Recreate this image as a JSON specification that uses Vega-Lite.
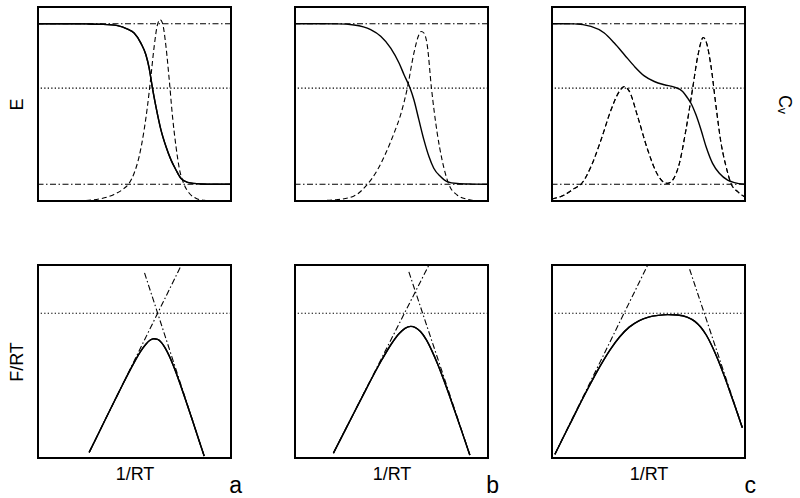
{
  "$schema": "https://vega.github.io/schema/vega-lite/v6.json",
  "padding": {"left": 7, "top": 6, "right": 5, "bottom": 0},
  "background": "white",
  "datasets": {
    "levels": [
      {"panel": "a-top", "kind": "limit", "y": 0.914},
      {"panel": "a-top", "kind": "limit", "y": 0.086},
      {"panel": "a-top", "kind": "level", "y": 0.582},
      {"panel": "b-top", "kind": "limit", "y": 0.914},
      {"panel": "b-top", "kind": "limit", "y": 0.086},
      {"panel": "b-top", "kind": "level", "y": 0.582},
      {"panel": "c-top", "kind": "limit", "y": 0.914},
      {"panel": "c-top", "kind": "limit", "y": 0.086},
      {"panel": "c-top", "kind": "level", "y": 0.582},
      {"panel": "a-bot", "kind": "level", "y": 0.75},
      {"panel": "b-bot", "kind": "level", "y": 0.75},
      {"panel": "c-bot", "kind": "level", "y": 0.75}
    ],
    "curves": [
      {"panel": "a-top", "series": "E", "x": 0, "y": 0.914},
      {"panel": "a-top", "series": "E", "x": 0.15, "y": 0.914},
      {"panel": "a-top", "series": "E", "x": 0.25, "y": 0.913},
      {"panel": "a-top", "series": "E", "x": 0.325, "y": 0.911},
      {"panel": "a-top", "series": "E", "x": 0.412, "y": 0.904},
      {"panel": "a-top", "series": "E", "x": 0.464, "y": 0.886},
      {"panel": "a-top", "series": "E", "x": 0.498, "y": 0.866},
      {"panel": "a-top", "series": "E", "x": 0.533, "y": 0.814},
      {"panel": "a-top", "series": "E", "x": 0.559, "y": 0.754},
      {"panel": "a-top", "series": "E", "x": 0.576, "y": 0.685},
      {"panel": "a-top", "series": "E", "x": 0.593, "y": 0.582},
      {"panel": "a-top", "series": "E", "x": 0.611, "y": 0.487},
      {"panel": "a-top", "series": "E", "x": 0.637, "y": 0.367},
      {"panel": "a-top", "series": "E", "x": 0.663, "y": 0.281},
      {"panel": "a-top", "series": "E", "x": 0.689, "y": 0.212},
      {"panel": "a-top", "series": "E", "x": 0.715, "y": 0.16},
      {"panel": "a-top", "series": "E", "x": 0.74, "y": 0.117},
      {"panel": "a-top", "series": "E", "x": 0.775, "y": 0.096},
      {"panel": "a-top", "series": "E", "x": 0.844, "y": 0.088},
      {"panel": "a-top", "series": "E", "x": 0.92, "y": 0.086},
      {"panel": "a-top", "series": "E", "x": 1, "y": 0.086},

      {"panel": "a-top", "series": "Cv", "x": 0, "y": 0},
      {"panel": "a-top", "series": "Cv", "x": 0.152, "y": 0},
      {"panel": "a-top", "series": "Cv", "x": 0.239, "y": 0.002},
      {"panel": "a-top", "series": "Cv", "x": 0.325, "y": 0.012},
      {"panel": "a-top", "series": "Cv", "x": 0.394, "y": 0.034},
      {"panel": "a-top", "series": "Cv", "x": 0.446, "y": 0.065},
      {"panel": "a-top", "series": "Cv", "x": 0.472, "y": 0.091},
      {"panel": "a-top", "series": "Cv", "x": 0.498, "y": 0.143},
      {"panel": "a-top", "series": "Cv", "x": 0.524, "y": 0.229},
      {"panel": "a-top", "series": "Cv", "x": 0.55, "y": 0.367},
      {"panel": "a-top", "series": "Cv", "x": 0.567, "y": 0.487},
      {"panel": "a-top", "series": "Cv", "x": 0.585, "y": 0.642},
      {"panel": "a-top", "series": "Cv", "x": 0.602, "y": 0.797},
      {"panel": "a-top", "series": "Cv", "x": 0.619, "y": 0.909},
      {"panel": "a-top", "series": "Cv", "x": 0.633, "y": 0.935},
      {"panel": "a-top", "series": "Cv", "x": 0.645, "y": 0.917},
      {"panel": "a-top", "series": "Cv", "x": 0.663, "y": 0.797},
      {"panel": "a-top", "series": "Cv", "x": 0.68, "y": 0.625},
      {"panel": "a-top", "series": "Cv", "x": 0.697, "y": 0.435},
      {"panel": "a-top", "series": "Cv", "x": 0.715, "y": 0.281},
      {"panel": "a-top", "series": "Cv", "x": 0.732, "y": 0.169},
      {"panel": "a-top", "series": "Cv", "x": 0.758, "y": 0.083},
      {"panel": "a-top", "series": "Cv", "x": 0.784, "y": 0.04},
      {"panel": "a-top", "series": "Cv", "x": 0.818, "y": 0.014},
      {"panel": "a-top", "series": "Cv", "x": 0.862, "y": 0.003},
      {"panel": "a-top", "series": "Cv", "x": 0.92, "y": 0},
      {"panel": "a-top", "series": "Cv", "x": 1, "y": 0},

      {"panel": "b-top", "series": "E", "x": 0, "y": 0.914},
      {"panel": "b-top", "series": "E", "x": 0.22, "y": 0.913},
      {"panel": "b-top", "series": "E", "x": 0.306, "y": 0.907},
      {"panel": "b-top", "series": "E", "x": 0.392, "y": 0.883},
      {"panel": "b-top", "series": "E", "x": 0.444, "y": 0.849},
      {"panel": "b-top", "series": "E", "x": 0.496, "y": 0.788},
      {"panel": "b-top", "series": "E", "x": 0.539, "y": 0.711},
      {"panel": "b-top", "series": "E", "x": 0.565, "y": 0.651},
      {"panel": "b-top", "series": "E", "x": 0.596, "y": 0.582},
      {"panel": "b-top", "series": "E", "x": 0.616, "y": 0.522},
      {"panel": "b-top", "series": "E", "x": 0.642, "y": 0.418},
      {"panel": "b-top", "series": "E", "x": 0.668, "y": 0.315},
      {"panel": "b-top", "series": "E", "x": 0.694, "y": 0.229},
      {"panel": "b-top", "series": "E", "x": 0.719, "y": 0.169},
      {"panel": "b-top", "series": "E", "x": 0.754, "y": 0.126},
      {"panel": "b-top", "series": "E", "x": 0.788, "y": 0.1},
      {"panel": "b-top", "series": "E", "x": 0.84, "y": 0.09},
      {"panel": "b-top", "series": "E", "x": 0.92, "y": 0.087},
      {"panel": "b-top", "series": "E", "x": 1, "y": 0.086},

      {"panel": "b-top", "series": "Cv", "x": 0, "y": 0},
      {"panel": "b-top", "series": "Cv", "x": 0.134, "y": 0.002},
      {"panel": "b-top", "series": "Cv", "x": 0.22, "y": 0.007},
      {"panel": "b-top", "series": "Cv", "x": 0.306, "y": 0.026},
      {"panel": "b-top", "series": "Cv", "x": 0.375, "y": 0.086},
      {"panel": "b-top", "series": "Cv", "x": 0.427, "y": 0.16},
      {"panel": "b-top", "series": "Cv", "x": 0.47, "y": 0.246},
      {"panel": "b-top", "series": "Cv", "x": 0.513, "y": 0.349},
      {"panel": "b-top", "series": "Cv", "x": 0.547, "y": 0.444},
      {"panel": "b-top", "series": "Cv", "x": 0.582, "y": 0.582},
      {"panel": "b-top", "series": "Cv", "x": 0.616, "y": 0.762},
      {"panel": "b-top", "series": "Cv", "x": 0.642, "y": 0.857},
      {"panel": "b-top", "series": "Cv", "x": 0.654, "y": 0.874},
      {"panel": "b-top", "series": "Cv", "x": 0.668, "y": 0.866},
      {"panel": "b-top", "series": "Cv", "x": 0.685, "y": 0.805},
      {"panel": "b-top", "series": "Cv", "x": 0.707, "y": 0.582},
      {"panel": "b-top", "series": "Cv", "x": 0.737, "y": 0.349},
      {"panel": "b-top", "series": "Cv", "x": 0.762, "y": 0.212},
      {"panel": "b-top", "series": "Cv", "x": 0.797, "y": 0.086},
      {"panel": "b-top", "series": "Cv", "x": 0.84, "y": 0.031},
      {"panel": "b-top", "series": "Cv", "x": 0.892, "y": 0.009},
      {"panel": "b-top", "series": "Cv", "x": 0.943, "y": 0.001},
      {"panel": "b-top", "series": "Cv", "x": 1, "y": 0},

      {"panel": "c-top", "series": "E", "x": 0, "y": 0.914},
      {"panel": "c-top", "series": "E", "x": 0.116, "y": 0.913},
      {"panel": "c-top", "series": "E", "x": 0.202, "y": 0.9},
      {"panel": "c-top", "series": "E", "x": 0.271, "y": 0.866},
      {"panel": "c-top", "series": "E", "x": 0.323, "y": 0.814},
      {"panel": "c-top", "series": "E", "x": 0.375, "y": 0.754},
      {"panel": "c-top", "series": "E", "x": 0.427, "y": 0.694},
      {"panel": "c-top", "series": "E", "x": 0.478, "y": 0.645},
      {"panel": "c-top", "series": "E", "x": 0.53, "y": 0.616},
      {"panel": "c-top", "series": "E", "x": 0.582, "y": 0.599},
      {"panel": "c-top", "series": "E", "x": 0.634, "y": 0.587},
      {"panel": "c-top", "series": "E", "x": 0.677, "y": 0.565},
      {"panel": "c-top", "series": "E", "x": 0.703, "y": 0.53},
      {"panel": "c-top", "series": "E", "x": 0.72, "y": 0.504},
      {"panel": "c-top", "series": "E", "x": 0.746, "y": 0.444},
      {"panel": "c-top", "series": "E", "x": 0.772, "y": 0.367},
      {"panel": "c-top", "series": "E", "x": 0.798, "y": 0.281},
      {"panel": "c-top", "series": "E", "x": 0.832, "y": 0.194},
      {"panel": "c-top", "series": "E", "x": 0.867, "y": 0.143},
      {"panel": "c-top", "series": "E", "x": 0.91, "y": 0.108},
      {"panel": "c-top", "series": "E", "x": 0.945, "y": 0.095},
      {"panel": "c-top", "series": "E", "x": 1, "y": 0.086},

      {"panel": "c-top", "series": "Cv", "x": 0, "y": 0.01},
      {"panel": "c-top", "series": "Cv", "x": 0.064, "y": 0.031},
      {"panel": "c-top", "series": "Cv", "x": 0.116, "y": 0.065},
      {"panel": "c-top", "series": "Cv", "x": 0.15, "y": 0.086},
      {"panel": "c-top", "series": "Cv", "x": 0.202, "y": 0.177},
      {"panel": "c-top", "series": "Cv", "x": 0.254, "y": 0.315},
      {"panel": "c-top", "series": "Cv", "x": 0.306, "y": 0.47},
      {"panel": "c-top", "series": "Cv", "x": 0.349, "y": 0.565},
      {"panel": "c-top", "series": "Cv", "x": 0.375, "y": 0.59},
      {"panel": "c-top", "series": "Cv", "x": 0.401, "y": 0.565},
      {"panel": "c-top", "series": "Cv", "x": 0.444, "y": 0.435},
      {"panel": "c-top", "series": "Cv", "x": 0.496, "y": 0.263},
      {"panel": "c-top", "series": "Cv", "x": 0.548, "y": 0.134},
      {"panel": "c-top", "series": "Cv", "x": 0.582, "y": 0.095},
      {"panel": "c-top", "series": "Cv", "x": 0.599, "y": 0.091},
      {"panel": "c-top", "series": "Cv", "x": 0.625, "y": 0.108},
      {"panel": "c-top", "series": "Cv", "x": 0.66, "y": 0.194},
      {"panel": "c-top", "series": "Cv", "x": 0.694, "y": 0.367},
      {"panel": "c-top", "series": "Cv", "x": 0.729, "y": 0.582},
      {"panel": "c-top", "series": "Cv", "x": 0.755, "y": 0.745},
      {"panel": "c-top", "series": "Cv", "x": 0.784, "y": 0.843},
      {"panel": "c-top", "series": "Cv", "x": 0.798, "y": 0.823},
      {"panel": "c-top", "series": "Cv", "x": 0.824, "y": 0.694},
      {"panel": "c-top", "series": "Cv", "x": 0.85, "y": 0.487},
      {"panel": "c-top", "series": "Cv", "x": 0.876, "y": 0.298},
      {"panel": "c-top", "series": "Cv", "x": 0.902, "y": 0.177},
      {"panel": "c-top", "series": "Cv", "x": 0.927, "y": 0.091},
      {"panel": "c-top", "series": "Cv", "x": 0.962, "y": 0.048},
      {"panel": "c-top", "series": "Cv", "x": 0.997, "y": 0.022},

      {"panel": "a-bot", "series": "F", "x": 0.265, "y": 0.029},
      {"panel": "a-bot", "series": "F", "x": 0.3, "y": 0.1},
      {"panel": "a-bot", "series": "F", "x": 0.35, "y": 0.202},
      {"panel": "a-bot", "series": "F", "x": 0.4, "y": 0.303},
      {"panel": "a-bot", "series": "F", "x": 0.45, "y": 0.403},
      {"panel": "a-bot", "series": "F", "x": 0.5, "y": 0.498},
      {"panel": "a-bot", "series": "F", "x": 0.53, "y": 0.55},
      {"panel": "a-bot", "series": "F", "x": 0.56, "y": 0.591},
      {"panel": "a-bot", "series": "F", "x": 0.58, "y": 0.61},
      {"panel": "a-bot", "series": "F", "x": 0.6, "y": 0.618},
      {"panel": "a-bot", "series": "F", "x": 0.62, "y": 0.615},
      {"panel": "a-bot", "series": "F", "x": 0.64, "y": 0.598},
      {"panel": "a-bot", "series": "F", "x": 0.66, "y": 0.568},
      {"panel": "a-bot", "series": "F", "x": 0.68, "y": 0.529},
      {"panel": "a-bot", "series": "F", "x": 0.7, "y": 0.482},
      {"panel": "a-bot", "series": "F", "x": 0.73, "y": 0.402},
      {"panel": "a-bot", "series": "F", "x": 0.76, "y": 0.315},
      {"panel": "a-bot", "series": "F", "x": 0.8, "y": 0.196},
      {"panel": "a-bot", "series": "F", "x": 0.83, "y": 0.104},
      {"panel": "a-bot", "series": "F", "x": 0.861, "y": 0.01},
      {"panel": "a-bot", "series": "L1", "x": 0.265, "y": 0.029},
      {"panel": "a-bot", "series": "L1", "x": 0.743, "y": 1.0},
      {"panel": "a-bot", "series": "L2", "x": 0.552, "y": 0.959},
      {"panel": "a-bot", "series": "L2", "x": 0.861, "y": 0.01},

      {"panel": "b-bot", "series": "F", "x": 0.199, "y": 0.025},
      {"panel": "b-bot", "series": "F", "x": 0.25, "y": 0.125},
      {"panel": "b-bot", "series": "F", "x": 0.3, "y": 0.223},
      {"panel": "b-bot", "series": "F", "x": 0.35, "y": 0.32},
      {"panel": "b-bot", "series": "F", "x": 0.4, "y": 0.417},
      {"panel": "b-bot", "series": "F", "x": 0.45, "y": 0.509},
      {"panel": "b-bot", "series": "F", "x": 0.5, "y": 0.592},
      {"panel": "b-bot", "series": "F", "x": 0.54, "y": 0.645},
      {"panel": "b-bot", "series": "F", "x": 0.57, "y": 0.672},
      {"panel": "b-bot", "series": "F", "x": 0.6, "y": 0.682},
      {"panel": "b-bot", "series": "F", "x": 0.624, "y": 0.676},
      {"panel": "b-bot", "series": "F", "x": 0.65, "y": 0.655},
      {"panel": "b-bot", "series": "F", "x": 0.68, "y": 0.613},
      {"panel": "b-bot", "series": "F", "x": 0.71, "y": 0.554},
      {"panel": "b-bot", "series": "F", "x": 0.74, "y": 0.485},
      {"panel": "b-bot", "series": "F", "x": 0.77, "y": 0.407},
      {"panel": "b-bot", "series": "F", "x": 0.8, "y": 0.324},
      {"panel": "b-bot", "series": "F", "x": 0.84, "y": 0.209},
      {"panel": "b-bot", "series": "F", "x": 0.87, "y": 0.121},
      {"panel": "b-bot", "series": "F", "x": 0.906, "y": 0.015},
      {"panel": "b-bot", "series": "L1", "x": 0.199, "y": 0.025},
      {"panel": "b-bot", "series": "L1", "x": 0.694, "y": 1.0},
      {"panel": "b-bot", "series": "L2", "x": 0.59, "y": 0.964},
      {"panel": "b-bot", "series": "L2", "x": 0.906, "y": 0.016},

      {"panel": "c-bot", "series": "F", "x": 0.015, "y": 0.019},
      {"panel": "c-bot", "series": "F", "x": 0.06, "y": 0.11},
      {"panel": "c-bot", "series": "F", "x": 0.1, "y": 0.19},
      {"panel": "c-bot", "series": "F", "x": 0.15, "y": 0.29},
      {"panel": "c-bot", "series": "F", "x": 0.2, "y": 0.386},
      {"panel": "c-bot", "series": "F", "x": 0.25, "y": 0.477},
      {"panel": "c-bot", "series": "F", "x": 0.3, "y": 0.559},
      {"panel": "c-bot", "series": "F", "x": 0.35, "y": 0.627},
      {"panel": "c-bot", "series": "F", "x": 0.4, "y": 0.678},
      {"panel": "c-bot", "series": "F", "x": 0.45, "y": 0.711},
      {"panel": "c-bot", "series": "F", "x": 0.5, "y": 0.73},
      {"panel": "c-bot", "series": "F", "x": 0.55, "y": 0.739},
      {"panel": "c-bot", "series": "F", "x": 0.6, "y": 0.743},
      {"panel": "c-bot", "series": "F", "x": 0.65, "y": 0.741},
      {"panel": "c-bot", "series": "F", "x": 0.7, "y": 0.73},
      {"panel": "c-bot", "series": "F", "x": 0.74, "y": 0.708},
      {"panel": "c-bot", "series": "F", "x": 0.77, "y": 0.679},
      {"panel": "c-bot", "series": "F", "x": 0.8, "y": 0.636},
      {"panel": "c-bot", "series": "F", "x": 0.83, "y": 0.578},
      {"panel": "c-bot", "series": "F", "x": 0.86, "y": 0.509},
      {"panel": "c-bot", "series": "F", "x": 0.89, "y": 0.432},
      {"panel": "c-bot", "series": "F", "x": 0.92, "y": 0.349},
      {"panel": "c-bot", "series": "F", "x": 0.95, "y": 0.263},
      {"panel": "c-bot", "series": "F", "x": 0.986, "y": 0.157},
      {"panel": "c-bot", "series": "L1", "x": 0.015, "y": 0.02},
      {"panel": "c-bot", "series": "L1", "x": 0.496, "y": 1.0},
      {"panel": "c-bot", "series": "L2", "x": 0.713, "y": 0.978},
      {"panel": "c-bot", "series": "L2", "x": 0.986, "y": 0.159}
    ]
  },
  "config": {
    "view": {"stroke": "black", "strokeWidth": 2},
    "axis": {"minExtent": 0, "titleFont": "Liberation Sans", "titleFontSize": 18, "titleFontWeight": "normal", "titleColor": "black"},
    "axisY": {"minExtent": 0, "titlePadding": 12},
    "axisX": {"minExtent": 0, "titlePadding": 7},
    "title": {"font": "Liberation Sans", "fontSize": 23, "fontWeight": "normal", "color": "black", "orient": "bottom", "anchor": "end", "frame": "group", "baseline": "alphabetic", "offset": -8, "dx": 11}
  },
  "columns": 3,
  "spacing": {"row": 64, "column": 64},
  "bounds": "flush",
  "concat": [
    {
      "width": 193, "height": 194,
      "layer": [
        {"data": {"name": "curves"}, "transform": [{"filter": "datum.panel == 'a-top' && datum.series == 'E'"}], "mark": {"type": "line", "color": "black", "strokeWidth": 1.4, "interpolate": "monotone", "clip": true}, "encoding": {"x": {"field": "x", "type": "quantitative", "scale": {"domain": [0, 1], "nice": false, "zero": false}, "axis": null}, "y": {"field": "y", "type": "quantitative", "scale": {"domain": [0, 1], "nice": false, "zero": false}, "axis": {"title": "E", "orient": "left", "labels": false, "ticks": false, "domain": false, "grid": false}}}},
        {"data": {"name": "levels"}, "transform": [{"filter": "datum.panel == 'a-top' && datum.kind == 'limit'"}], "mark": {"type": "rule", "color": "black", "strokeWidth": 1.1, "strokeDash": [6, 2.5, 1.5, 2.5]}, "encoding": {"y": {"field": "y", "type": "quantitative"}}},
        {"data": {"name": "levels"}, "transform": [{"filter": "datum.panel == 'a-top' && datum.kind == 'level'"}], "mark": {"type": "rule", "color": "black", "strokeWidth": 1.2, "strokeDash": [1.3, 2.2]}, "encoding": {"y": {"field": "y", "type": "quantitative"}}},
        {"data": {"name": "curves"}, "transform": [{"filter": "datum.panel == 'a-top' && datum.series == 'Cv'"}], "mark": {"type": "line", "color": "black", "strokeWidth": 1.1, "strokeDash": [5, 3], "interpolate": "monotone", "clip": true}, "encoding": {"x": {"field": "x", "type": "quantitative", "axis": null}, "y": {"field": "y", "type": "quantitative"}}},
        {"data": {"name": "curves"}, "transform": [{"filter": "datum.panel == 'a-top' && datum.series == 'E'"}], "mark": {"type": "line", "color": "black", "strokeWidth": 1.4, "interpolate": "monotone", "clip": true}, "encoding": {"x": {"field": "x", "type": "quantitative", "axis": null}, "y": {"field": "y", "type": "quantitative"}}}
      ]
    },
    {
      "width": 193, "height": 194,
      "layer": [
        {"data": {"name": "levels"}, "transform": [{"filter": "datum.panel == 'b-top' && datum.kind == 'limit'"}], "mark": {"type": "rule", "color": "black", "strokeWidth": 1.1, "strokeDash": [6, 2.5, 1.5, 2.5]}, "encoding": {"y": {"field": "y", "type": "quantitative", "scale": {"domain": [0, 1], "nice": false, "zero": false}, "axis": null}}},
        {"data": {"name": "levels"}, "transform": [{"filter": "datum.panel == 'b-top' && datum.kind == 'level'"}], "mark": {"type": "rule", "color": "black", "strokeWidth": 1.2, "strokeDash": [1.3, 2.2]}, "encoding": {"y": {"field": "y", "type": "quantitative", "axis": null}}},
        {"data": {"name": "curves"}, "transform": [{"filter": "datum.panel == 'b-top' && datum.series == 'Cv'"}], "mark": {"type": "line", "color": "black", "strokeWidth": 1.1, "strokeDash": [5, 3], "interpolate": "monotone", "clip": true}, "encoding": {"x": {"field": "x", "type": "quantitative", "scale": {"domain": [0, 1], "nice": false, "zero": false}, "axis": null}, "y": {"field": "y", "type": "quantitative", "axis": null}}},
        {"data": {"name": "curves"}, "transform": [{"filter": "datum.panel == 'b-top' && datum.series == 'E'"}], "mark": {"type": "line", "color": "black", "strokeWidth": 1.4, "interpolate": "monotone", "clip": true}, "encoding": {"x": {"field": "x", "type": "quantitative", "axis": null}, "y": {"field": "y", "type": "quantitative", "axis": null}}}
      ]
    },
    {
      "width": 193, "height": 194,
      "layer": [
        {"data": {"name": "curves"}, "transform": [{"filter": "datum.panel == 'c-top' && datum.series == 'Cv'"}], "mark": {"type": "line", "color": "black", "strokeWidth": 1.1, "strokeDash": [5, 3], "interpolate": "monotone", "clip": true}, "encoding": {"x": {"field": "x", "type": "quantitative", "scale": {"domain": [0, 1], "nice": false, "zero": false}, "axis": null}, "y": {"field": "y", "type": "quantitative", "scale": {"domain": [0, 1], "nice": false, "zero": false}, "axis": {"title": "Cᵥ", "orient": "right", "titlePadding": 29, "labels": false, "ticks": false, "domain": false, "grid": false}}}},
        {"data": {"name": "levels"}, "transform": [{"filter": "datum.panel == 'c-top' && datum.kind == 'limit'"}], "mark": {"type": "rule", "color": "black", "strokeWidth": 1.1, "strokeDash": [6, 2.5, 1.5, 2.5]}, "encoding": {"y": {"field": "y", "type": "quantitative"}}},
        {"data": {"name": "levels"}, "transform": [{"filter": "datum.panel == 'c-top' && datum.kind == 'level'"}], "mark": {"type": "rule", "color": "black", "strokeWidth": 1.2, "strokeDash": [1.3, 2.2]}, "encoding": {"y": {"field": "y", "type": "quantitative"}}},
        {"data": {"name": "curves"}, "transform": [{"filter": "datum.panel == 'c-top' && datum.series == 'Cv'"}], "mark": {"type": "line", "color": "black", "strokeWidth": 1.1, "strokeDash": [5, 3], "interpolate": "monotone", "clip": true}, "encoding": {"x": {"field": "x", "type": "quantitative", "axis": null}, "y": {"field": "y", "type": "quantitative"}}},
        {"data": {"name": "curves"}, "transform": [{"filter": "datum.panel == 'c-top' && datum.series == 'E'"}], "mark": {"type": "line", "color": "black", "strokeWidth": 1.4, "interpolate": "monotone", "clip": true}, "encoding": {"x": {"field": "x", "type": "quantitative", "axis": null}, "y": {"field": "y", "type": "quantitative"}}}
      ]
    },
    {
      "width": 193, "height": 193,
      "title": {"text": "a"},
      "layer": [
        {"data": {"name": "curves"}, "transform": [{"filter": "datum.panel == 'a-bot' && datum.series == 'F'"}], "mark": {"type": "line", "color": "black", "strokeWidth": 1.4, "interpolate": "monotone", "clip": true}, "encoding": {"x": {"field": "x", "type": "quantitative", "scale": {"domain": [0, 1], "nice": false, "zero": false}, "axis": {"title": "1/RT", "orient": "bottom", "labels": false, "ticks": false, "domain": false, "grid": false}}, "y": {"field": "y", "type": "quantitative", "scale": {"domain": [0, 1], "nice": false, "zero": false}, "axis": {"title": "F/RT", "orient": "left", "labels": false, "ticks": false, "domain": false, "grid": false}}}},
        {"data": {"name": "levels"}, "transform": [{"filter": "datum.panel == 'a-bot'"}], "mark": {"type": "rule", "color": "black", "strokeWidth": 1.2, "strokeDash": [1.3, 2.2]}, "encoding": {"y": {"field": "y", "type": "quantitative"}}},
        {"data": {"name": "curves"}, "transform": [{"filter": "datum.panel == 'a-bot' && datum.series != 'F'"}], "mark": {"type": "line", "color": "black", "strokeWidth": 1.1, "strokeDash": [6, 2.5, 1.5, 2.5], "clip": true}, "encoding": {"detail": {"field": "series"}, "x": {"field": "x", "type": "quantitative"}, "y": {"field": "y", "type": "quantitative"}}},
        {"data": {"name": "curves"}, "transform": [{"filter": "datum.panel == 'a-bot' && datum.series == 'F'"}], "mark": {"type": "line", "color": "black", "strokeWidth": 1.4, "interpolate": "monotone", "clip": true}, "encoding": {"x": {"field": "x", "type": "quantitative"}, "y": {"field": "y", "type": "quantitative"}}}
      ]
    },
    {
      "width": 193, "height": 193,
      "title": {"text": "b"},
      "layer": [
        {"data": {"name": "curves"}, "transform": [{"filter": "datum.panel == 'b-bot' && datum.series == 'F'"}], "mark": {"type": "line", "color": "black", "strokeWidth": 1.4, "interpolate": "monotone", "clip": true}, "encoding": {"x": {"field": "x", "type": "quantitative", "scale": {"domain": [0, 1], "nice": false, "zero": false}, "axis": {"title": "1/RT", "orient": "bottom", "labels": false, "ticks": false, "domain": false, "grid": false}}, "y": {"field": "y", "type": "quantitative", "scale": {"domain": [0, 1], "nice": false, "zero": false}, "axis": null}}},
        {"data": {"name": "levels"}, "transform": [{"filter": "datum.panel == 'b-bot'"}], "mark": {"type": "rule", "color": "black", "strokeWidth": 1.2, "strokeDash": [1.3, 2.2]}, "encoding": {"y": {"field": "y", "type": "quantitative", "axis": null}}},
        {"data": {"name": "curves"}, "transform": [{"filter": "datum.panel == 'b-bot' && datum.series != 'F'"}], "mark": {"type": "line", "color": "black", "strokeWidth": 1.1, "strokeDash": [6, 2.5, 1.5, 2.5], "clip": true}, "encoding": {"detail": {"field": "series"}, "x": {"field": "x", "type": "quantitative"}, "y": {"field": "y", "type": "quantitative", "axis": null}}},
        {"data": {"name": "curves"}, "transform": [{"filter": "datum.panel == 'b-bot' && datum.series == 'F'"}], "mark": {"type": "line", "color": "black", "strokeWidth": 1.4, "interpolate": "monotone", "clip": true}, "encoding": {"x": {"field": "x", "type": "quantitative"}, "y": {"field": "y", "type": "quantitative", "axis": null}}}
      ]
    },
    {
      "width": 193, "height": 193,
      "title": {"text": "c"},
      "layer": [
        {"data": {"name": "curves"}, "transform": [{"filter": "datum.panel == 'c-bot' && datum.series == 'F'"}], "mark": {"type": "line", "color": "black", "strokeWidth": 1.4, "interpolate": "monotone", "clip": true}, "encoding": {"x": {"field": "x", "type": "quantitative", "scale": {"domain": [0, 1], "nice": false, "zero": false}, "axis": {"title": "1/RT", "orient": "bottom", "labels": false, "ticks": false, "domain": false, "grid": false}}, "y": {"field": "y", "type": "quantitative", "scale": {"domain": [0, 1], "nice": false, "zero": false}, "axis": null}}},
        {"data": {"name": "levels"}, "transform": [{"filter": "datum.panel == 'c-bot'"}], "mark": {"type": "rule", "color": "black", "strokeWidth": 1.2, "strokeDash": [1.3, 2.2]}, "encoding": {"y": {"field": "y", "type": "quantitative", "axis": null}}},
        {"data": {"name": "curves"}, "transform": [{"filter": "datum.panel == 'c-bot' && datum.series != 'F'"}], "mark": {"type": "line", "color": "black", "strokeWidth": 1.1, "strokeDash": [6, 2.5, 1.5, 2.5], "clip": true}, "encoding": {"detail": {"field": "series"}, "x": {"field": "x", "type": "quantitative"}, "y": {"field": "y", "type": "quantitative", "axis": null}}},
        {"data": {"name": "curves"}, "transform": [{"filter": "datum.panel == 'c-bot' && datum.series == 'F'"}], "mark": {"type": "line", "color": "black", "strokeWidth": 1.4, "interpolate": "monotone", "clip": true}, "encoding": {"x": {"field": "x", "type": "quantitative"}, "y": {"field": "y", "type": "quantitative", "axis": null}}}
      ]
    }
  ]
}
